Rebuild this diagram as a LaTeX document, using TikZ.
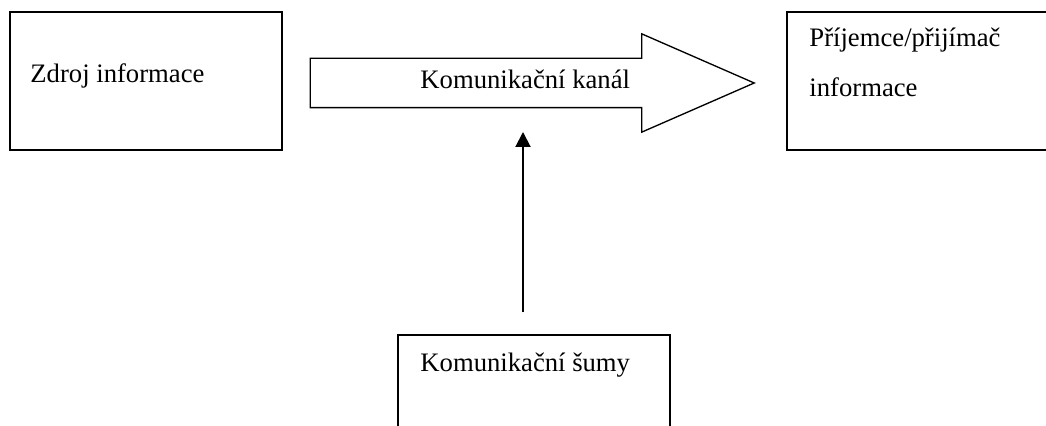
\documentclass[tikz,border=0pt]{standalone}
\usepackage{fontspec}
\setmainfont{Liberation Serif}
\usetikzlibrary{shapes.arrows,arrows.meta}

\begin{document}
\begin{tikzpicture}[x=0.45pt, y=-0.45pt]

\tikzstyle{box}=[rectangle, draw, line width=0.6pt, minimum width=122.4pt, minimum height=62.1pt, inner sep=0pt]
\tikzstyle{txt}=[inner sep=0pt, anchor=base west, font=\fontsize{12}{22.5}\selectfont, align=left]
\tikzstyle{channel}=[single arrow, draw, line width=0.6pt, minimum height=199.8pt, inner xsep=0pt, inner ysep=10.8pt, single arrow head extend=11pt, single arrow tip angle=47.2]
\tikzstyle{noisearrow}=[-{Triangle[width=6.75pt,length=6.75pt]}, line width=0.9pt, shorten <=9.9pt]

\clip (0,0) rectangle (1046,426);

\node (source) [box] at (146,81) {};
\node (receiver) [box] at (923,81) {};
\node (noise) [box] at (534,404) {};
\node (chan) [channel] at (504,83) {};

\node (sourcetext) [txt] at (30,83) {Zdroj informace};
\node (receivertext) [txt] at (809,97) {Příjemce/přijímač\\informace};
\node (chantext) [txt] at (420,89) {Komunikační kanál};
\node (noisetext) [txt] at (420,372) {Komunikační šumy};

\coordinate (chantarget) at (523,132);
\draw [noisearrow] (noise.north -| chantarget) -- (chantarget);

\end{tikzpicture}
\end{document}
